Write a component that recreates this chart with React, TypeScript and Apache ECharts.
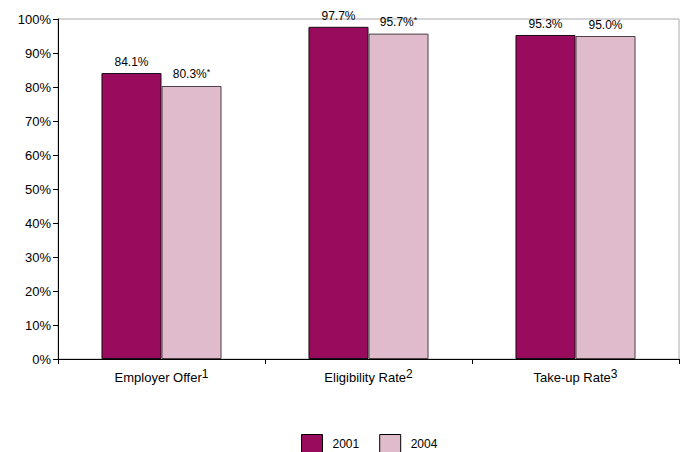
import React, { useEffect, useRef } from "react";
import * as echarts from "echarts";

const categories = ["Employer Offer", "Eligibility Rate", "Take-up Rate"];
const categorySup = ["1", "2", "3"];
const series2001 = [84.1, 97.7, 95.3];
const series2004 = [80.3, 95.7, 95.0];
const marks2001 = ["", "", ""];
const marks2004 = ["*", "*", ""];
const seriesNames = ["2001", "2004"];
const yTicks = [0, 10, 20, 30, 40, 50, 60, 70, 80, 90, 100];

const FONT = "'Liberation Sans', Arial, sans-serif";

export default function App() {
  const ref = useRef<HTMLDivElement>(null);
  useEffect(() => {
    if (!ref.current) return;
    const chart = echarts.init(ref.current, undefined, { renderer: "svg" });
    const mkLabel = (marks: string[]) => ({
      show: true,
      position: "top",
      distance: 5,
      color: "#000",
      fontFamily: FONT,
      fontSize: 12,
      formatter: (p: any) =>
        p.value.toFixed(1) + "%" + (marks[p.dataIndex] ? "{s|" + marks[p.dataIndex] + "}" : ""),
      rich: {
        s: { fontSize: 9, fontFamily: FONT, color: "#000", verticalAlign: "top", padding: [0, 0, 4, 0] },
      },
    });
    chart.setOption({
      animation: false,
      backgroundColor: "#fff",
      textStyle: { fontFamily: FONT },
      grid: { left: 58, right: 5, top: 19, bottom: 93, show: true, borderColor: "#aaaaaa", borderWidth: 1 },
      legend: {
        data: seriesNames,
        left: 296,
        top: 429,
        itemWidth: 21,
        itemHeight: 18,
        itemGap: 20,
        icon: "rect",
        textStyle: { fontFamily: FONT, fontSize: 12, color: "#000", padding: [0, 0, 0, 5] },
        itemStyle: { borderColor: "#000", borderWidth: 1 },
      },
      xAxis: {
        type: "category",
        data: categories,
        axisLine: { lineStyle: { color: "#000", width: 1 } },
        axisTick: { show: true, alignWithLabel: false, length: 5, lineStyle: { color: "#000" } },
        axisLabel: {
          margin: 9,
          color: "#000",
          fontFamily: FONT,
          fontSize: 13,
          formatter: (v: string, i: number) => "{a|" + v + "}{s|" + categorySup[i] + "}",
          rich: {
            a: { fontSize: 13, fontFamily: FONT, color: "#000" },
            s: { fontSize: 12, fontFamily: FONT, color: "#000", verticalAlign: "top", padding: [0, 0, 6, 0] },
          },
        },
      },
      yAxis: {
        type: "value",
        min: yTicks[0],
        max: yTicks[yTicks.length - 1],
        interval: 10,
        axisLine: { show: true, lineStyle: { color: "#000", width: 1 } },
        axisTick: { show: true, length: 5, lineStyle: { color: "#000" } },
        splitLine: { show: false },
        axisLabel: {
          color: "#000",
          fontFamily: FONT,
          fontSize: 13,
          margin: 7,
          formatter: (v: number) => v + "%",
        },
      },
      series: [
        {
          name: seriesNames[0],
          type: "bar",
          data: series2001,
          barGap: "0%",
          barCategoryGap: "42%",
          itemStyle: { color: "#990b5c", borderColor: "#1a0a12", borderWidth: 1 },
          label: mkLabel(marks2001),
        },
        {
          name: seriesNames[1],
          type: "bar",
          data: series2004,
          barGap: "0%",
          barCategoryGap: "42%",
          itemStyle: { color: "#e0bbcb", borderColor: "#4a4046", borderWidth: 1 },
          label: mkLabel(marks2004),
        },
      ],
    });
    return () => chart.dispose();
  }, []);
  return <div ref={ref} style={{ width: 684, height: 452, position: "absolute", left: 0, top: 0 }} />;
}
